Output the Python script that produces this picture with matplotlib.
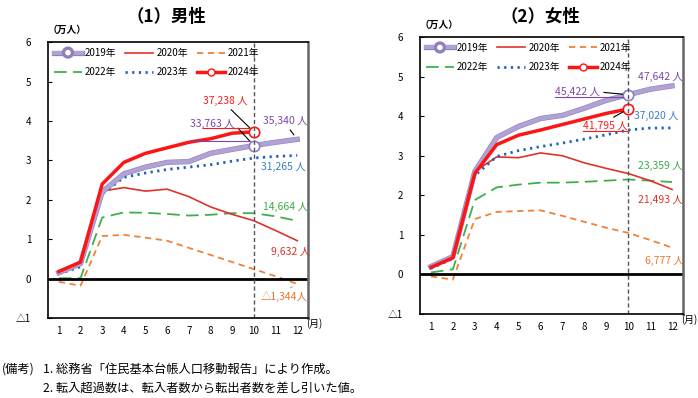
import matplotlib
matplotlib.use("Agg")
import matplotlib.pyplot as plt
import matplotlib.patheffects as pe
from matplotlib.lines import Line2D

plt.rcParams['font.family'] = ['Noto Sans CJK JP', 'DejaVu Sans']

months = list(range(1, 13))
years = ['2019年', '2020年', '2021年', '2022年', '2023年', '2024年']

# 男性 (万人)
male_2019 = [0.15, 0.38, 2.2, 2.66, 2.83, 2.95, 2.97, 3.18, 3.28, 3.3763, 3.46, 3.534]
male_2020 = [0.15, 0.36, 2.22, 2.31, 2.22, 2.27, 2.08, 1.82, 1.63, 1.47, 1.22, 0.9632]
male_2021 = [-0.08, -0.18, 1.08, 1.11, 1.04, 0.96, 0.78, 0.6, 0.42, 0.24, 0.06, -0.1344]
male_2022 = [0.01, 0.01, 1.55, 1.68, 1.67, 1.64, 1.6, 1.62, 1.66, 1.66, 1.58, 1.4664]
male_2023 = [0.12, 0.3, 2.15, 2.57, 2.68, 2.77, 2.83, 2.89, 2.98, 3.06, 3.1, 3.1265]
male_2024 = [0.18, 0.42, 2.4, 2.95, 3.18, 3.32, 3.46, 3.55, 3.69, 3.7238]

# 女性 (万人)
female_2019 = [0.2, 0.45, 2.6, 3.46, 3.74, 3.94, 4.02, 4.2, 4.4, 4.5422, 4.68, 4.7642]
female_2020 = [0.2, 0.45, 2.6, 2.97, 2.95, 3.07, 3.0, 2.82, 2.68, 2.55, 2.37, 2.1493]
female_2021 = [-0.05, -0.13, 1.4, 1.58, 1.6, 1.62, 1.48, 1.33, 1.18, 1.05, 0.87, 0.6777]
female_2022 = [0.05, 0.13, 1.88, 2.2, 2.27, 2.32, 2.32, 2.34, 2.37, 2.4, 2.37, 2.3359]
female_2023 = [0.15, 0.4, 2.5, 2.98, 3.13, 3.23, 3.32, 3.42, 3.53, 3.65, 3.7, 3.702]
female_2024 = [0.18, 0.42, 2.55, 3.28, 3.52, 3.65, 3.79, 3.93, 4.07, 4.1795]

PURPLE_IN, PURPLE_OUT = '#b1a2d4', '#9180c0'
RED24 = '#ff1414'
RED20 = '#df3229'
ORANGE = '#f0813a'
GREEN = '#3db04b'
BLUE = '#1f5fc0'

fig = plt.figure(figsize=(6.98, 3.98), dpi=100)
ax1 = fig.add_axes([0.0688, 0.201, 0.3725, 0.693])
ax2 = fig.add_axes([0.6017, 0.211, 0.3768, 0.696])

stroke19 = [pe.Stroke(linewidth=3.8, foreground=PURPLE_OUT), pe.Normal()]


def draw_panel(ax, d19, d20, d21, d22, d23, d24):
    ax.plot(months, d21, color=ORANGE, lw=1.3, dashes=(3.5, 2.5))
    ax.plot(months, d22, color=GREEN, lw=1.3, dashes=(7, 3.5))
    ax.plot(months, d20, color=RED20, lw=1.2)
    ax.plot(months, d23, color=BLUE, lw=2, dashes=(0.8, 1.6))
    ax.plot(months, d19, color=PURPLE_IN, lw=3, path_effects=stroke19)
    ax.plot(months[:len(d24)], d24, color=RED24, lw=2.5)
    # 10月の丸印
    ax.plot([months[9]], [d19[9]], 'o', ms=7.5, mfc='white', mec=PURPLE_OUT, mew=1.2)
    ax.plot([months[9]], [d24[9]], 'o', ms=7.5, mfc='white', mec=RED24, mew=1.2)

    ax.axhline(0, color='black', lw=2)
    ax.axvline(10, color='#555555', lw=1, dashes=(3, 2))
    ax.set_xlim(0.5, 12.5)
    ax.set_ylim(-1, 6)
    ax.set_xticks(months)
    ax.set_yticks([-1, 0, 1, 2, 3, 4, 5, 6])
    ax.set_yticklabels(['△1', '0', '1', '2', '3', '4', '5', '6'])
    ax.tick_params(axis='x', length=0, pad=6, labelsize=7)
    ax.tick_params(axis='y', direction='in', length=3, pad=12, labelsize=7)
    for s in ax.spines.values():
        s.set_linewidth(1.2)
    ax.spines['right'].set_color('#666666')
    ax.spines['right'].set_linewidth(1.8)
    ax.text(12.78, -1, '(月)', transform=ax.transData, fontsize=7,
            ha='center', va='top')
    ax.text(0.0, 1.045, '（万人）', transform=ax.transAxes, fontsize=7,
            ha='left', va='center', fontweight='bold')

    h19 = Line2D([], [], color=PURPLE_IN, lw=3, path_effects=stroke19,
                 marker='o', ms=5, mfc='white', mec=PURPLE_OUT)
    h20 = Line2D([], [], color=RED20, lw=1.2)
    h21 = Line2D([], [], color=ORANGE, lw=1.3, dashes=(3.5, 2.5))
    h22 = Line2D([], [], color=GREEN, lw=1.3, dashes=(7, 3.5))
    h23 = Line2D([], [], color=BLUE, lw=2, dashes=(0.8, 1.6))
    h24 = Line2D([], [], color=RED24, lw=2.5, marker='o', ms=5,
                 mfc='white', mec=RED24)
    # legend fills column by column -> reorder so rows read 2019..2021 / 2022..2024
    handles = [h19, h22, h20, h23, h21, h24]
    labels = [years[0], years[3], years[1], years[4], years[2], years[5]]
    ax.legend(handles, labels, ncol=3, loc='upper left', frameon=False,
              fontsize=7, handlelength=2.9, handletextpad=0.3,
              columnspacing=0.9, labelspacing=0.95, borderaxespad=0.3,
              borderpad=0.3)


draw_panel(ax1, male_2019, male_2020, male_2021, male_2022, male_2023, male_2024)
draw_panel(ax2, female_2019, female_2020, female_2021, female_2022, female_2023, female_2024)

LBL_PURPLE = '#7a48a8'
LBL_RED = '#ff1a1a'
LBL_BLUE = '#3a7cc8'
LBL_GREEN = '#3aaa48'
LBL_RED20 = '#d8352a'
LBL_ORANGE = '#e8782f'

underlined = []


def label(ax, s, xy, xytext, color, line=None, relpos=(0.5, 0.5), ul=False, lc='black'):
    if line:
        t = ax.annotate(s, xy=xy, xytext=xytext, color=color, fontsize=7.5,
                        ha='center', va='center',
                        arrowprops=dict(arrowstyle='-', color=lc, lw=0.8,
                                        relpos=relpos, shrinkA=1, shrinkB=4))
    else:
        t = ax.text(xytext[0], xytext[1], s, color=color, fontsize=7.5,
                    ha='center', va='center')
    if ul:
        underlined.append((t, color))
    return t


# 男性
label(ax1, '37,238 人', (10, male_2024[9]), (8.67, 4.51), LBL_RED, True, (0.55, 0), True)
label(ax1, '33,763 人', (10, male_2019[9]), (8.07, 3.92), LBL_PURPLE, True, (1.0, 0.5), True)
label(ax1, '35,340 人', (12, male_2019[11]), (11.44, 4.0), LBL_PURPLE, True, (0.55, 0))
label(ax1, '31,265 人', None, (11.35, 2.84), LBL_BLUE)
label(ax1, '14,664 人', None, (11.44, 1.82), LBL_GREEN)
label(ax1, '9,632 人', None, (11.67, 0.68), LBL_RED20)
label(ax1, '△1,344人', (12, male_2021[11]), (11.4, -0.46), LBL_ORANGE, True, (0.5, 1), lc='#aaaaaa')

# 女性
label(ax2, '47,642 人', None, (11.46, 4.99), LBL_PURPLE)
label(ax2, '45,422 人', (10, female_2019[9]), (7.67, 4.61), LBL_PURPLE, True, (1.0, 0.5), True)
label(ax2, '37,020 人', None, (11.27, 4.01), LBL_BLUE)
label(ax2, '41,795 人', (10, female_2024[9]), (8.95, 3.76), LBL_RED, True, (0.55, 1), True)
label(ax2, '23,359 人', None, (11.46, 2.75), LBL_GREEN)
label(ax2, '21,493 人', None, (11.46, 1.87), LBL_RED20)
label(ax2, '6,777 人', None, (11.64, 0.33), LBL_ORANGE)

fig.text(0.238, 0.957, '（1）男性', fontsize=12.5, fontweight='bold', ha='center', va='center')
fig.text(0.774, 0.957, '（2）女性', fontsize=12.5, fontweight='bold', ha='center', va='center')

fig.text(0.003, 0.073, '(備考)', fontsize=8.8, ha='left', va='center')
fig.text(0.062, 0.073, '1. 総務省「住民基本台帳人口移動報告」により作成。',
         fontsize=8.8, ha='left', va='center')
fig.text(0.062, 0.025, '2. 転入超過数は、転入者数から転出者数を差し引いた値。',
         fontsize=8.8, ha='left', va='center')

# 下線
fig.canvas.draw()
inv = fig.transFigure.inverted()
for t, c in underlined:
    bb = t.get_window_extent()
    (x0, y0), (x1, _) = inv.transform([(bb.x0, bb.y0), (bb.x1, bb.y0)])
    fig.add_artist(Line2D([x0, x1], [y0, y0], transform=fig.transFigure,
                          color=c, lw=0.8))

fig.savefig('out.png', dpi=100)
